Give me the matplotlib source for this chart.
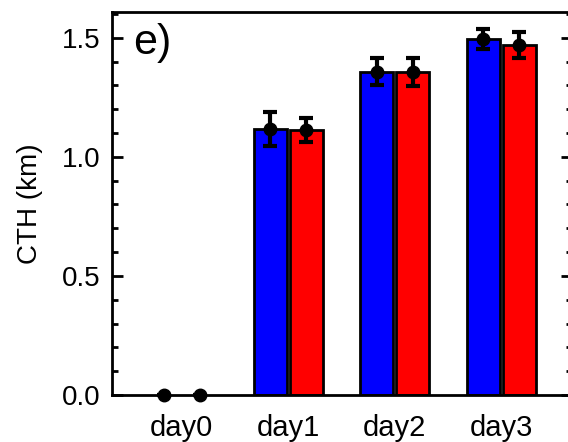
import numpy as np
import matplotlib
matplotlib.use("Agg")
import matplotlib.pyplot as plt
from matplotlib.ticker import MultipleLocator

plt.rcParams["font.family"] = ["Liberation Sans", "DejaVu Sans"]

days = ["day0", "day1", "day2", "day3"]
cth_blue = [0.0, 1.118, 1.358, 1.494]
err_blue = [0.0, 0.072, 0.055, 0.043]
cth_red = [0.0, 1.113, 1.355, 1.470]
err_red = [0.0, 0.050, 0.058, 0.056]

x = np.arange(len(days))
off = 0.168
w = 0.31

fig = plt.figure(figsize=(5.68, 4.42), dpi=100)
ax = fig.add_axes([112 / 568, 47 / 442, 460 / 568, 383 / 442])

for xi, vb, vr in zip(x, cth_blue, cth_red):
    if vb > 0:
        ax.bar(xi - off, vb, w, color="#0000ff", edgecolor="black", linewidth=2, zorder=2)
    if vr > 0:
        ax.bar(xi + off, vr, w, color="#ff0000", edgecolor="black", linewidth=2, zorder=2)

ax.errorbar(x - off, cth_blue, yerr=err_blue, fmt="o", color="black", ms=9,
            elinewidth=3, capsize=5, capthick=3, zorder=4, clip_on=False)
ax.errorbar(x + off, cth_red, yerr=err_red, fmt="o", color="black", ms=9,
            elinewidth=3, capsize=5, capthick=3, zorder=4, clip_on=False)

ax.set_xlim(-0.655, 3.665)
ax.set_ylim(0, 1.608)
ax.set_xticks(x)
ax.set_xticklabels(days)
ax.yaxis.set_minor_locator(MultipleLocator(0.1))
ax.set_yticks([0, 0.5, 1.0, 1.5])
ax.set_yticklabels(["0.0", "0.5", "1.0", "1.5"])

ax.tick_params(axis="x", length=0, pad=14, labelsize=21)
ax.tick_params(axis="y", which="both", direction="in", right=True, labelsize=20, pad=8, width=2)
ax.tick_params(axis="y", which="major", length=8)
ax.tick_params(axis="y", which="minor", length=4)
for s in ax.spines.values():
    s.set_linewidth(2)

ax.set_ylabel("CTH (km)", fontsize=20, labelpad=14)
ax.text(0.047, 0.972, "e)", transform=ax.transAxes, fontsize=31, va="top", ha="left")

fig.savefig("out.png", dpi=100)
